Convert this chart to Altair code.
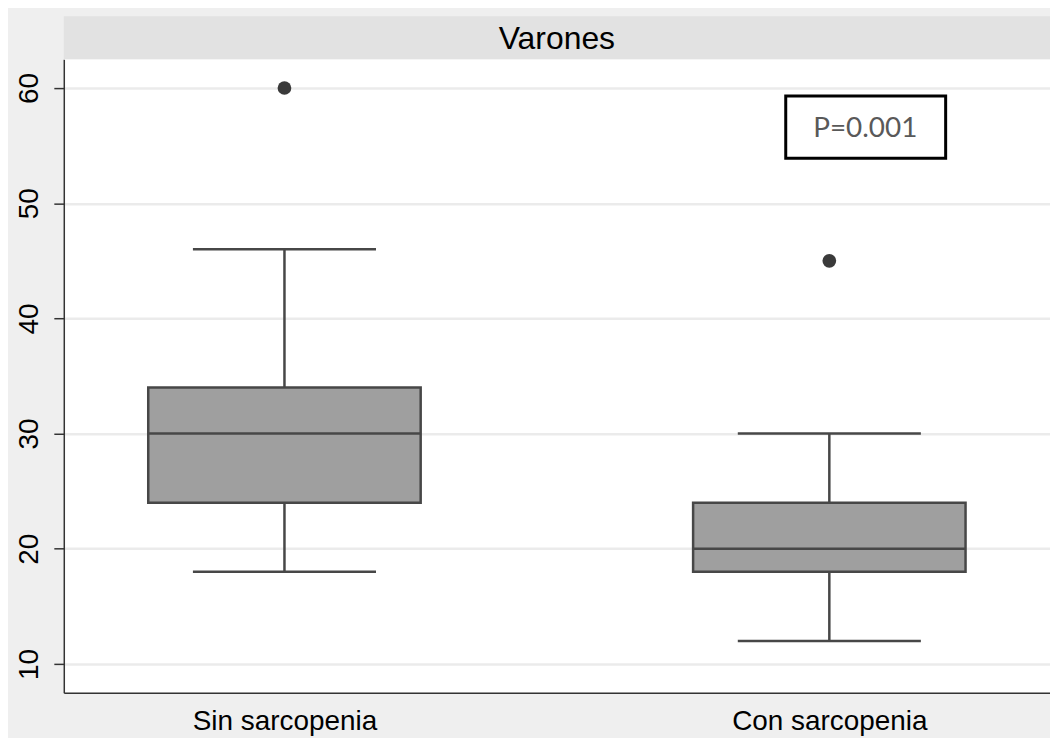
import altair as alt
import pandas as pd

# ---- data ----
groups = ["Sin sarcopenia", "Con sarcopenia"]
positions = [1, 2]
whisker_low = [18, 12]
q1 = [24, 18]
median = [30, 20]
q3 = [34, 24]
whisker_high = [46, 30]

outlier_groups = ["Sin sarcopenia", "Con sarcopenia"]
outlier_positions = [1, 2]
outlier_values = [60, 45]

panel_title = "Varones"
p_label = "P=0.001"
y_ticks = [10, 20, 30, 40, 50, 60]

# ---- layout / style ----
W, H = 990, 636
STRIP_H = 43
BOX_HALF = 0.25
CAP_HALF = 0.168
LINE = "#474747"

stats = pd.DataFrame({
    "group": groups, "pos": positions, "lo": whisker_low, "q1": q1,
    "med": median, "q3": q3, "hi": whisker_high,
})
outl = pd.DataFrame({"group": outlier_groups, "pos": outlier_positions, "val": outlier_values})

label_expr = " : ".join(
    [f"datum.value == {p} ? '{g}'" for p, g in zip(positions, groups)]
) + " : ''"

xscale = alt.Scale(domain=[0.595, 2.405], nice=False, zero=False)
yscale = alt.Scale(domain=[7.5, 62.5], nice=False, zero=False)

xaxis = alt.Axis(values=positions, labelExpr=label_expr, title=None, grid=False,
                 ticks=False, labelFontSize=28, labelColor="black", labelPadding=15,
                 labelLimit=0, labelOverlap=False,
                 domainColor="#333333", domainWidth=1.5, labelFont="Liberation Sans")
yaxis = alt.Axis(values=y_ticks, title=None, grid=True, gridColor="#ebebeb", gridWidth=2.5,
                 tickSize=10, tickColor="#333333", tickWidth=1.5,
                 domainColor="#333333", domainWidth=1.5,
                 labelAngle=270, labelAlign="center", labelBaseline="alphabetic",
                 labelPadding=16, labelFontSize=28, labelColor="black",
                 labelFont="Liberation Sans")

base = alt.Chart(stats)

x_enc = alt.X("pos:Q", scale=xscale, axis=xaxis)

grid_layer = base.mark_rule(opacity=0).encode(
    x=x_enc, y=alt.Y("med:Q", scale=yscale, axis=yaxis)
)

whisk_low = base.mark_rule(color=LINE, strokeWidth=2.5).encode(
    x=alt.X("pos:Q", scale=xscale), y=alt.Y("lo:Q", scale=yscale), y2="q1:Q"
)
whisk_hi = base.mark_rule(color=LINE, strokeWidth=2.5).encode(
    x=alt.X("pos:Q", scale=xscale), y=alt.Y("q3:Q", scale=yscale), y2="hi:Q"
)

caps = base.transform_calculate(
    cl=f"datum.pos - {CAP_HALF}", cr=f"datum.pos + {CAP_HALF}"
)
cap_low = caps.mark_rule(color=LINE, strokeWidth=2.5).encode(
    x=alt.X("cl:Q", scale=xscale), x2="cr:Q", y=alt.Y("lo:Q", scale=yscale)
)
cap_hi = caps.mark_rule(color=LINE, strokeWidth=2.5).encode(
    x=alt.X("cl:Q", scale=xscale), x2="cr:Q", y=alt.Y("hi:Q", scale=yscale)
)

boxes = base.transform_calculate(
    bl=f"datum.pos - {BOX_HALF}", br=f"datum.pos + {BOX_HALF}"
)
box = boxes.mark_rect(fill="#9f9f9f", stroke=LINE, strokeWidth=2.5).encode(
    x=alt.X("bl:Q", scale=xscale), x2="br:Q",
    y=alt.Y("q1:Q", scale=yscale), y2="q3:Q"
)
med = boxes.mark_rule(color=LINE, strokeWidth=2.5).encode(
    x=alt.X("bl:Q", scale=xscale), x2="br:Q", y=alt.Y("med:Q", scale=yscale)
)

outliers = alt.Chart(outl).mark_circle(color="#3a3a3a", opacity=1, size=190).encode(
    x=alt.X("pos:Q", scale=xscale), y=alt.Y("val:Q", scale=yscale)
)

one = pd.DataFrame({"k": [0]})
strip = alt.Chart(one).mark_rect(color="#e2e2e2").encode(
    x=alt.value(0), x2=alt.value(W), y=alt.value(-STRIP_H), y2=alt.value(0)
)
strip_text = alt.Chart(one).mark_text(
    fontSize=32, color="black", font="Liberation Sans", baseline="middle", align="center"
).encode(x=alt.value(W / 2), y=alt.value(-STRIP_H / 2 + 1), text=alt.value(panel_title))

annot_box = alt.Chart(one).mark_rect(fill="white", stroke="black", strokeWidth=3).encode(
    x=alt.datum(1.92, scale=xscale), x2=alt.datum(2.2135),
    y=alt.datum(53.9, scale=yscale), y2=alt.datum(59.3)
)
annot_text = alt.Chart(one).mark_text(
    fontSize=28, color="#595959", font="Lato", baseline="middle", align="center"
).encode(
    x=alt.datum(2.066, scale=xscale), y=alt.datum(56.4, scale=yscale), text=alt.value(p_label)
)

chart = alt.layer(
    grid_layer, whisk_low, whisk_hi, cap_low, cap_hi, box, med, outliers,
    annot_box, annot_text, strip, strip_text
).properties(
    width=W, height=H,
    autosize=alt.AutoSizeParams(type="none"),
    padding={"left": 56, "top": 50, "right": 0, "bottom": 44},
    background="#efefef",
).configure_view(fill="white", stroke=None)

chart.save("out.html", embed_options={"renderer": "svg", "actions": False})
